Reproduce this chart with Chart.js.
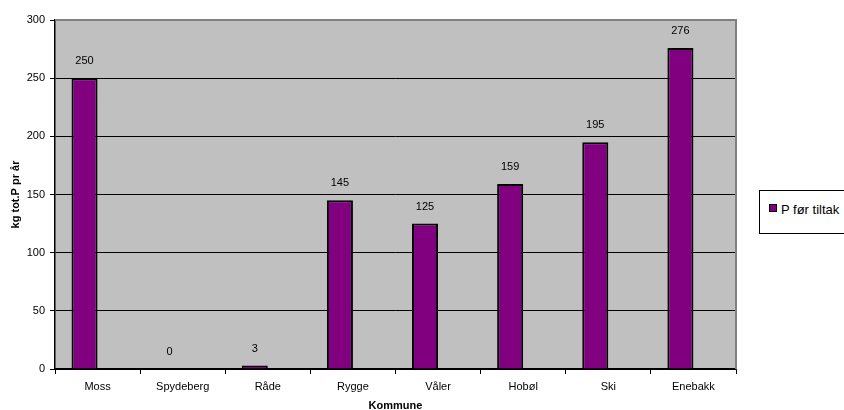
<!DOCTYPE html>
<html>
<head>
<meta charset="utf-8">
<script src="https://cdn.jsdelivr.net/npm/chart.js@4/dist/chart.umd.min.js"></script>
<style>
  body { margin: 0; background: #fff; overflow: hidden; }
  #wrap { position: relative; width: 844px; height: 410px; }
  #legend {
    position: absolute; left: 759px; top: 190px; width: 100px; height: 42px;
    border: 1px solid #000; background: #fff;
    font-family: "Liberation Sans", Arial, sans-serif; font-size: 13px; color: #000;
  }
  #legend .box {
    position: absolute; left: 9px; top: 13px; width: 6px; height: 6px;
    background: #800080; border: 1.5px solid #000;
  }
  #legend .txt { position: absolute; left: 21px; top: 11px; white-space: nowrap; }
</style>
</head>
<body>
<div id="wrap">
  <canvas id="myChart" width="844" height="410"></canvas>
  <div id="legend"><span class="box"></span><span class="txt">P før tiltak</span></div>
</div>
<script>
// kommuner og verdier lest av figuren
const kommuner = ['Moss', 'Spydeberg', 'Råde', 'Rygge', 'Våler', 'Hobøl', 'Ski', 'Enebakk'];
const pForTiltak = [250, 0, 3, 145, 125, 159, 195, 276];
const pEtterTiltak = [null, null, null, null, null, null, null, null]; // tom serie, gir plass i gruppen
const yMin = 0;
const yMax = 300;
const yStep = 50;

const FONT = '"Liberation Sans", Arial, sans-serif';

const plotBg = {
  id: 'plotBg',
  beforeDraw(chart) {
    const { ctx, chartArea: a } = chart;
    ctx.save();
    ctx.fillStyle = '#C0C0C0';
    ctx.fillRect(a.left, a.top, a.right - a.left, a.bottom - a.top);
    ctx.restore();
  },
  afterDraw(chart) {
    const { ctx, chartArea: a } = chart;
    ctx.save();
    ctx.strokeStyle = '#808080';
    ctx.lineWidth = 2;
    ctx.beginPath();
    ctx.moveTo(a.left, a.top);
    ctx.lineTo(a.right, a.top);
    ctx.lineTo(a.right, a.bottom);
    ctx.stroke();
    ctx.restore();
  }
};

const valueLabels = {
  id: 'valueLabels',
  afterDatasetsDraw(chart) {
    const { ctx } = chart;
    const meta = chart.getDatasetMeta(0);
    ctx.save();
    ctx.font = '11px ' + FONT;
    ctx.fillStyle = '#000';
    ctx.textAlign = 'center';
    ctx.textBaseline = 'middle';
    meta.data.forEach((bar, i) => {
      ctx.fillText(String(pForTiltak[i]), bar.x, bar.y - 17);
    });
    ctx.restore();
  }
};

const ctx = document.getElementById('myChart');
new Chart(ctx, {
  type: 'bar',
  data: {
    labels: kommuner,
    datasets: [
      {
        label: 'P før tiltak',
        data: pForTiltak,
        backgroundColor: '#800080',
        borderColor: '#000000',
        borderWidth: 2,
        categoryPercentage: 0.612,
        barPercentage: 1.0,
      },
      {
        label: 'P etter tiltak',
        data: pEtterTiltak,
        backgroundColor: '#FF00FF',
        borderColor: '#000000',
        borderWidth: 2,
        categoryPercentage: 0.612,
        barPercentage: 1.0,
      },
    ],
  },
  options: {
    responsive: false,
    animation: false,
    layout: { padding: { left: 0, top: 20, right: 108, bottom: 0 } },
    plugins: {
      legend: { display: false },
      tooltip: { enabled: false },
    },
    scales: {
      x: {
        afterFit(scale) { scale.height = 41; },
        grid: {
          offset: true,
          drawOnChartArea: false,
          drawTicks: true,
          tickLength: 5,
          color: '#000',
        },
        border: { display: true, color: '#000', width: 1.5 },
        ticks: {
          color: '#000',
          font: { family: FONT, size: 11 },
          padding: 6,
          maxRotation: 0,
        },
        title: {
          display: true,
          text: 'Kommune',
          color: '#000',
          font: { family: FONT, size: 11, weight: 'bold' },
          padding: { top: 0, bottom: -3 },
        },
      },
      y: {
        min: yMin,
        max: yMax,
        afterFit(scale) { scale.width = 55; },
        grid: {
          color: '#000',
          lineWidth: 1,
          drawTicks: true,
          tickLength: 5,
        },
        border: { display: true, color: '#000', width: 1.5 },
        ticks: {
          stepSize: yStep,
          color: '#000',
          font: { family: FONT, size: 11 },
          padding: 5,
        },
        title: {
          display: true,
          text: 'kg tot.P pr år',
          color: '#000',
          font: { family: FONT, size: 11, weight: 'bold' },
          padding: { top: 9, bottom: 0 },
        },
      },
    },
  },
  plugins: [plotBg, valueLabels],
});
</script>
</body>
</html>
